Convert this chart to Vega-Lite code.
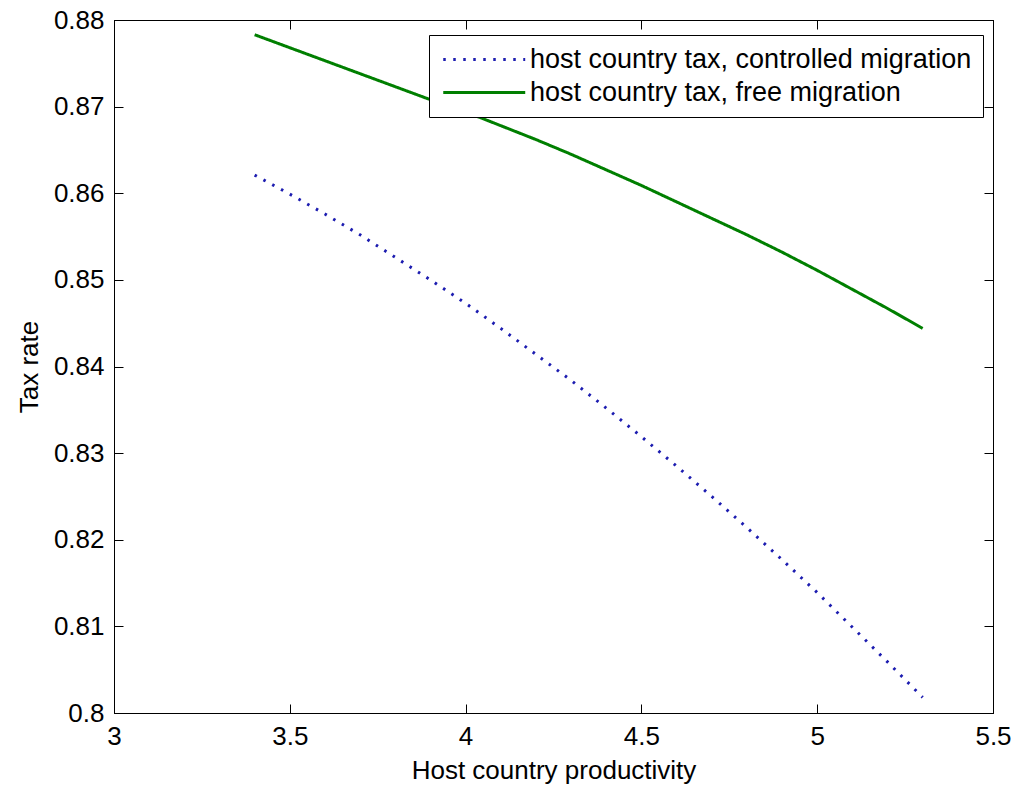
{
  "$schema": "https://vega.github.io/schema/vega-lite/v6.json",
  "width": 879,
  "height": 693,
  "autosize": {"type": "none"},
  "padding": {"left": 114, "top": 20, "right": 26, "bottom": 78},
  "background": "white",
  "config": {
    "view": {"stroke": "black", "strokeWidth": 1},
    "font": "Liberation Sans",
    "axis": {
      "grid": false,
      "domainColor": "black",
      "tickColor": "black",
      "labelColor": "black",
      "titleColor": "black",
      "labelFont": "Liberation Sans",
      "titleFont": "Liberation Sans",
      "labelFontSize": 26,
      "titleFontSize": 26,
      "titleFontWeight": "normal",
      "tickSize": -9
    }
  },
  "data": {"values": [
    {"x": 3.4, "y": 0.8621, "s": "host country tax, controlled migration"},
    {"x": 3.5, "y": 0.8599, "s": "host country tax, controlled migration"},
    {"x": 3.6, "y": 0.8576, "s": "host country tax, controlled migration"},
    {"x": 3.7, "y": 0.8552, "s": "host country tax, controlled migration"},
    {"x": 3.8, "y": 0.8526, "s": "host country tax, controlled migration"},
    {"x": 3.9, "y": 0.8500, "s": "host country tax, controlled migration"},
    {"x": 4.0, "y": 0.8473, "s": "host country tax, controlled migration"},
    {"x": 4.1, "y": 0.8444, "s": "host country tax, controlled migration"},
    {"x": 4.2, "y": 0.8414, "s": "host country tax, controlled migration"},
    {"x": 4.3, "y": 0.8384, "s": "host country tax, controlled migration"},
    {"x": 4.4, "y": 0.8352, "s": "host country tax, controlled migration"},
    {"x": 4.5, "y": 0.8319, "s": "host country tax, controlled migration"},
    {"x": 4.6, "y": 0.8285, "s": "host country tax, controlled migration"},
    {"x": 4.7, "y": 0.8250, "s": "host country tax, controlled migration"},
    {"x": 4.8, "y": 0.8214, "s": "host country tax, controlled migration"},
    {"x": 4.9, "y": 0.8177, "s": "host country tax, controlled migration"},
    {"x": 5.0, "y": 0.8139, "s": "host country tax, controlled migration"},
    {"x": 5.1, "y": 0.8099, "s": "host country tax, controlled migration"},
    {"x": 5.2, "y": 0.8059, "s": "host country tax, controlled migration"},
    {"x": 5.3, "y": 0.8018, "s": "host country tax, controlled migration"},
    {"x": 3.4, "y": 0.8783, "s": "host country tax, free migration"},
    {"x": 3.5, "y": 0.8768, "s": "host country tax, free migration"},
    {"x": 3.6, "y": 0.8753, "s": "host country tax, free migration"},
    {"x": 3.7, "y": 0.8738, "s": "host country tax, free migration"},
    {"x": 3.8, "y": 0.8723, "s": "host country tax, free migration"},
    {"x": 3.9, "y": 0.8708, "s": "host country tax, free migration"},
    {"x": 4.0, "y": 0.8694, "s": "host country tax, free migration"},
    {"x": 4.1, "y": 0.8678, "s": "host country tax, free migration"},
    {"x": 4.2, "y": 0.8662, "s": "host country tax, free migration"},
    {"x": 4.3, "y": 0.8645, "s": "host country tax, free migration"},
    {"x": 4.4, "y": 0.8627, "s": "host country tax, free migration"},
    {"x": 4.5, "y": 0.8609, "s": "host country tax, free migration"},
    {"x": 4.6, "y": 0.8590, "s": "host country tax, free migration"},
    {"x": 4.7, "y": 0.8571, "s": "host country tax, free migration"},
    {"x": 4.8, "y": 0.8552, "s": "host country tax, free migration"},
    {"x": 4.9, "y": 0.8532, "s": "host country tax, free migration"},
    {"x": 5.0, "y": 0.8511, "s": "host country tax, free migration"},
    {"x": 5.1, "y": 0.8489, "s": "host country tax, free migration"},
    {"x": 5.2, "y": 0.8467, "s": "host country tax, free migration"},
    {"x": 5.3, "y": 0.8444, "s": "host country tax, free migration"}
  ]},
  "layer": [
    {
      "mark": {"type": "line", "strokeWidth": 3, "clip": true},
      "encoding": {
        "x": {"field": "x", "type": "quantitative",
          "scale": {"domain": [3, 5.5], "nice": false, "zero": false},
          "axis": {"orient": "bottom", "values": [3, 3.5, 4, 4.5, 5, 5.5], "format": "~g", "title": "Host country productivity", "labelPadding": 19, "titlePadding": 8, "labelFlush": false, "labelOverlap": false}},
        "y": {"field": "y", "type": "quantitative",
          "scale": {"domain": [0.8, 0.88], "nice": false, "zero": false},
          "axis": {"orient": "left", "values": [0.8, 0.81, 0.82, 0.83, 0.84, 0.85, 0.86, 0.87, 0.88], "format": "~g", "title": "Tax rate", "labelPadding": 19, "titlePadding": 11, "labelFlush": false, "labelOverlap": false}},
        "color": {"field": "s", "type": "nominal",
          "scale": {"domain": ["host country tax, controlled migration", "host country tax, free migration"], "range": ["#1c1cb0", "#007f00"]},
          "legend": {"orient": "none", "legendX": 315, "legendY": 15, "title": null, "symbolType": "M-1,0H7", "symbolSize": 420, "symbolStrokeWidth": 3, "labelFontSize": 27, "labelFont": "Liberation Sans", "labelColor": "black", "strokeColor": "black", "fillColor": "white", "padding": 11, "rowPadding": 5, "labelOffset": 63, "labelLimit": 700}},
        "strokeDash": {"field": "s", "type": "nominal",
          "scale": {"domain": ["host country tax, controlled migration", "host country tax, free migration"], "range": [[2.5, 7.5], [1, 0]]},
          "legend": {"orient": "none", "legendX": 315, "legendY": 15, "title": null, "symbolType": "M-1,0H7", "symbolSize": 420, "symbolStrokeWidth": 3, "labelFontSize": 27, "labelFont": "Liberation Sans", "labelColor": "black", "strokeColor": "black", "fillColor": "white", "padding": 11, "rowPadding": 5, "labelOffset": 63, "labelLimit": 700}}
      }
    },
    {
      "mark": {"type": "line", "strokeOpacity": 0},
      "encoding": {
        "x": {"field": "x", "type": "quantitative",
          "scale": {"domain": [3, 5.5], "nice": false, "zero": false},
          "axis": {"orient": "top", "values": [3, 3.5, 4, 4.5, 5, 5.5], "labels": false, "title": null}},
        "y": {"field": "y", "type": "quantitative",
          "scale": {"domain": [0.8, 0.88], "nice": false, "zero": false},
          "axis": {"orient": "right", "values": [0.8, 0.81, 0.82, 0.83, 0.84, 0.85, 0.86, 0.87, 0.88], "labels": false, "title": null}},
        "detail": {"field": "s", "type": "nominal"}
      }
    }
  ],
  "resolve": {"axis": {"x": "independent", "y": "independent"}}
}
